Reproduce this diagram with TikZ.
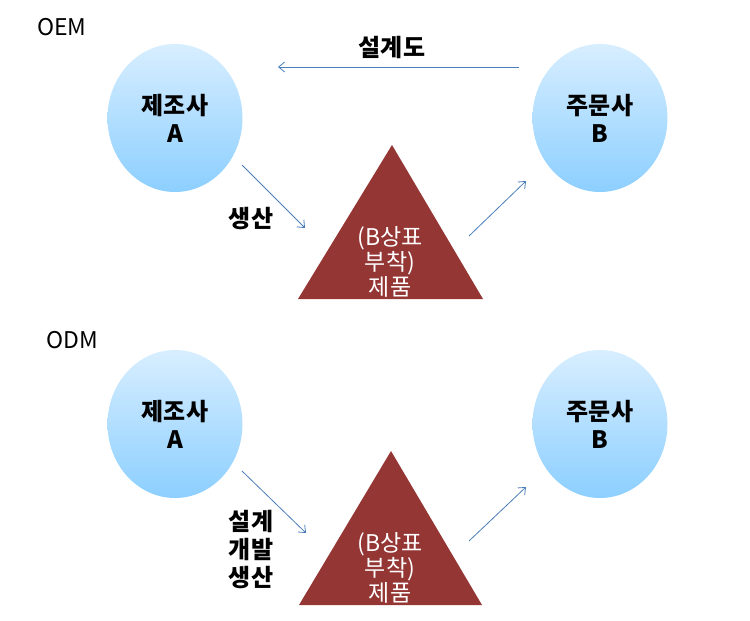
\documentclass[tikz,border=0pt]{standalone}
\usepackage{fontspec}
\setmainfont{Noto Sans CJK KR}
\usetikzlibrary{shapes.geometric,arrows.meta}
\definecolor{topblue}{HTML}{D8EEFF}
\definecolor{botblue}{HTML}{8CCFFF}
\definecolor{prod}{HTML}{943634}
\definecolor{lineblue}{HTML}{4A7EBB}
\tikzset{
  firm/.style={ellipse, minimum width=135pt, minimum height=148pt, inner sep=0pt,
    top color=topblue, bottom color=botblue, draw=none, align=center,
    font=\fontsize{24}{28}\selectfont\bfseries},
  conn/.style={draw=lineblue, line width=0.8pt, -{Straight Barb[length=6pt,width=10pt,line width=0.8pt]}},
  prodtri/.style={fill=prod, draw=none},
  prodtext/.style={text=white, align=center, font=\fontsize{23}{25}\selectfont},
  lbl/.style={align=center, font=\fontsize{24}{28}\selectfont\bfseries},
  title/.style={font=\fontsize{23}{26}\selectfont}
}
\begin{document}
\begin{tikzpicture}[x=1pt,y=-1pt]
\useasboundingbox (0,0) rectangle (750,621);
% ---------- OEM ----------
\node[title] (oem) at (62,27) {OEM};
\node[firm] (a1) at (175,118) {제조사\\A};
\node[firm] (b1) at (600,118) {주문사\\B};
\fill[prodtri] (392,145) -- (483,299) -- (298,299) -- cycle;
\node[prodtext] (p1) at (390,262) {(B상표\\부착)\\제품};
\coordinate (d1s) at (519,67);
\coordinate (d1e) at (278,67);
\draw[conn] (d1s) -- (d1e);
\node[lbl] (l1) at (392,47) {설계도};
\coordinate (m1s) at (242,165);
\coordinate (m1e) at (305,228);
\draw[conn] (m1s) -- (m1e);
\node[lbl] (l2) at (251,219) {생산};
\coordinate (o1s) at (469,236);
\coordinate (o1e) at (526,181);
\draw[conn] (o1s) -- (o1e);
% ---------- ODM ----------
\node[title] (odm) at (72,340) {ODM};
\node[firm] (a2) at (175,424) {제조사\\A};
\node[firm] (b2) at (600,424) {주문사\\B};
\fill[prodtri] (391,451) -- (482,605) -- (299,605) -- cycle;
\node[prodtext] (p2) at (390,568) {(B상표\\부착)\\제품};
\coordinate (m2s) at (242,471);
\coordinate (m2e) at (306,533);
\draw[conn] (m2s) -- (m2e);
\node[lbl] (l3) at (251,550) {설계\\개발\\생산};
\coordinate (o2s) at (469,541);
\coordinate (o2e) at (526,487);
\draw[conn] (o2s) -- (o2e);
\end{tikzpicture}
\end{document}
